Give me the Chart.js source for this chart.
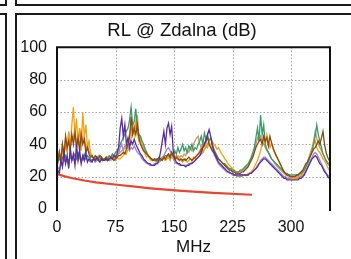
<!DOCTYPE html>
<html>
<head>
<meta charset="utf-8">
<script src="https://cdn.jsdelivr.net/npm/chart.js@4.4.1/dist/chart.umd.min.js"></script>
<style>
html,body{margin:0;padding:0;background:#fff;}
#wrap{position:absolute;left:0;top:0;width:351px;height:259px;}
.ln{position:absolute;background:#1a1a1a;}
</style>
</head>
<body>
<div id="wrap"><canvas id="c" width="351" height="259"></canvas></div>
<div class="ln" style="left:5px;top:0;width:2px;height:6px"></div>
<div class="ln" style="left:0;top:4px;width:7px;height:2px"></div>
<div class="ln" style="left:15px;top:0;width:2px;height:6px"></div>
<div class="ln" style="left:15px;top:4px;width:336px;height:2px"></div>
<div class="ln" style="left:5px;top:13px;width:2px;height:246px"></div>
<div class="ln" style="left:0;top:13px;width:7px;height:2px"></div>
<div class="ln" style="left:15px;top:13px;width:2px;height:246px"></div>
<div class="ln" style="left:15px;top:13px;width:336px;height:2px"></div>
<script>
const chartTitle = "RL @ Zdalna (dB)";
const xTitle = "MHz";
const xTicks = [0, 75, 150, 225, 300];
const yTicks = [0, 20, 40, 60, 80, 100];

const freqs = [
1,3,5,7,9,11,13,15,17,19,
21,23,25,27,29,31,33,35,37,39,
41,43,45,47,49,51,53,55,57,59,
61,63,65,67,69,71,73,75,77,79,
81,83,85,87,89,91,93,95,97,99,
101,103,105,107,109,111,113,115,117,119,
121,123,125,127,129,131,133,135,137,139,
141,143,145,147,149,151,153,155,157,159,
161,163,165,167,169,171,173,175,177,179,
181,183,185,187,189,191,193,195,197,199,
201,203,205,207,209,211,213,215,217,219,
221,223,225,227,229,231,233,235,237,239,
241,243,245,247,249,251,253,255,257,259,
261,263,265,267,269,271,273,275,277,279,
281,283,285,287,289,291,293,295,297,299,
301,303,305,307,309,311,313,315,317,319,
321,323,325,327,329,331,333,335,337,339,
341,343,345,347,349];

const orange = [
30,33,29,36,32,40,35,47,38,52,
63,45,56,40,50,36,60,44,52,38,
42,35,33,31,30,32,31,30,32,31,
30,31,32,30,31,33,31,30,32,31,
31,32,33,35,34,37,40,44,50,46,
54,47,42,44,38,36,34,32,33,31,
30,31,30,29,30,31,30,32,31,30,
32,33,31,34,32,30,31,33,32,30,
29,30,31,29,30,31,30,32,31,33,
34,36,38,35,37,40,38,41,39,42,
40,39,37,38,36,34,33,31,30,28,
27,26,25,24,23,22,22,21,21,21,
21,21,22,22,23,24,26,28,30,33,
36,40,44,40,46,42,38,41,37,35,
33,31,29,27,25,23,22,21,20,20,
19,19,19,19,20,20,21,22,24,26,
28,31,34,37,40,42,38,36,35,33,
31,30,28,26,24];

const brown = [
28,35,30,40,33,45,38,42,36,46,
40,47,38,44,36,46,40,43,35,38,
34,32,33,31,33,32,31,33,32,30,
31,32,30,31,32,31,30,31,32,33,
33,34,35,34,37,40,44,57,46,50,
46,52,44,40,38,36,35,34,33,32,
31,30,31,30,31,32,31,30,32,31,
33,34,32,35,33,31,32,31,30,31,
30,31,30,31,32,31,30,31,32,33,
34,35,37,38,40,42,44,40,38,36,
35,34,32,31,30,29,28,27,26,25,
24,24,23,23,22,22,22,22,23,23,
24,25,26,28,30,32,35,38,40,42,
43,40,45,42,44,39,45,41,38,35,
33,31,29,27,25,23,22,21,21,20,
20,20,20,21,21,22,23,24,26,28,
29,31,33,35,37,38,40,42,40,44,
48,40,35,32,30];

const purple = [
24,22,30,26,35,28,33,25,38,30,
34,27,40,30,36,28,33,30,35,29,
31,30,29,31,30,32,30,29,31,30,
30,31,30,31,32,31,33,32,34,38,
50,56,45,52,40,44,38,42,40,43,
40,38,36,34,33,31,30,29,28,28,
27,27,27,28,28,31,36,42,48,40,
50,53,46,51,36,31,29,28,28,27,
27,27,26,27,27,28,28,29,30,31,
32,33,35,38,40,43,46,49,45,40,
36,33,31,29,28,27,26,25,24,23,
23,22,22,21,21,21,21,21,21,21,
21,21,21,22,22,23,24,25,26,28,
29,30,31,31,30,29,28,27,26,25,
24,23,22,21,20,19,19,18,18,18,
18,18,18,18,18,19,19,20,21,23,
25,27,29,31,32,33,32,30,28,27,
25,23,22,20,19];

const lavender = [
26,24,28,27,31,29,30,27,33,30,
31,29,34,30,32,29,31,30,32,30,
30,29,30,31,29,30,31,30,30,31,
30,30,31,30,31,32,31,32,33,34,
38,40,36,39,37,38,36,38,37,39,
37,35,34,33,31,30,29,28,28,27,
27,27,28,28,29,29,30,31,33,35,
37,38,36,34,31,29,28,28,27,27,
27,27,27,27,28,28,29,29,30,31,
32,33,34,35,37,38,40,41,39,37,
34,32,30,28,27,26,25,24,23,23,
22,22,21,21,21,20,20,20,20,21,
21,21,21,22,22,23,24,25,27,28,
30,31,32,32,31,30,29,28,27,26,
25,24,23,22,21,20,20,19,19,19,
19,19,19,19,19,20,20,21,22,24,
26,28,30,32,34,35,34,32,30,28,
26,24,22,21,20];

const green = [
30,31,29,32,30,33,31,30,32,31,
32,34,31,35,33,30,32,34,31,33,
32,31,30,31,30,31,30,31,32,31,
31,32,31,33,32,34,33,35,36,38,
40,42,44,46,48,50,55,63,52,54,
62,50,46,45,42,40,37,35,33,32,
31,30,30,31,30,31,30,31,32,33,
33,34,32,35,33,36,34,38,35,37,
40,36,38,35,39,37,40,36,38,37,
40,42,45,40,47,43,46,42,44,40,
37,35,33,31,30,29,28,28,27,26,
25,25,24,24,23,23,23,24,24,25,
26,27,28,30,32,35,38,44,50,42,
58,46,52,40,37,35,33,31,30,29,
28,27,26,25,24,23,22,22,21,21,
21,21,21,21,21,22,22,23,24,26,
28,30,33,36,40,45,52,46,42,38,
34,32,30,28,27];

const tan = [
31,36,30,40,34,44,37,48,39,45,
44,50,40,46,38,48,42,45,37,40,
36,33,32,31,32,31,33,32,31,30,
31,30,32,31,30,32,31,33,32,34,
35,36,37,38,40,42,45,50,48,52,
50,58,45,42,40,38,36,34,33,32,
31,30,31,30,31,30,31,32,31,30,
31,32,30,33,31,32,33,31,32,33,
32,34,33,36,35,38,36,40,42,44,
45,40,38,41,39,42,40,41,38,37,
36,34,33,31,30,29,28,27,26,25,
24,24,23,23,23,23,23,23,24,24,
25,26,27,29,31,33,36,40,44,42,
45,42,40,38,36,35,33,31,30,28,
27,26,25,24,23,22,21,21,20,20,
20,20,20,20,21,21,22,23,25,27,
29,32,35,38,42,48,44,40,38,36,
34,32,30,29,28];

const limitFreqs = [1, 10, 20, 35, 50, 77, 100, 120, 160, 200, 250];
const limitVals = [21.5, 20.2, 19, 17.6, 16.5, 15, 13.8, 12.8, 11.2, 10, 8.8];

function pts(xs, ys){ return xs.map((x,i)=>({x:x, y:ys[i]})); }
function ds(label, xs, ys, color, w){
  return {label:label, data:pts(xs, ys), borderColor:color, backgroundColor:color,
          borderWidth:w, pointRadius:0, tension:0, fill:false, yAxisID:'y'};
}

// dotted grid drawn from the library's own scales and ticks
const gridPlugin = {
  id:'dotgrid',
  beforeDatasetsDraw(chart){
    const a = chart.chartArea, ctx = chart.ctx;
    const xs = chart.scales.x, ys = chart.scales.y;
    ctx.save();
    ctx.strokeStyle = '#a6a6a6';
    ctx.lineWidth = 1;
    ctx.setLineDash([1.5, 2]);
    xs.ticks.forEach(t => {
      if (t.value <= xs.min || t.value >= xs.max) return;
      const p = Math.round(xs.getPixelForValue(t.value)) + 0.5;
      ctx.beginPath(); ctx.moveTo(p, a.top); ctx.lineTo(p, a.bottom); ctx.stroke();
    });
    ys.ticks.forEach(t => {
      if (t.value <= ys.min || t.value >= ys.max) return;
      const p = Math.round(ys.getPixelForValue(t.value)) + 0.5;
      ctx.beginPath(); ctx.moveTo(a.left, p); ctx.lineTo(a.right, p); ctx.stroke();
    });
    ctx.restore();
  }
};

const framePlugin = {
  id:'frame',
  afterDraw(chart){
    const a = chart.chartArea, ctx = chart.ctx;
    ctx.save();
    ctx.strokeStyle = '#111';
    ctx.lineWidth = 2;
    ctx.beginPath();
    ctx.moveTo(a.left, a.bottom + 2);
    ctx.lineTo(a.left, a.top);
    ctx.lineTo(a.right, a.top);
    ctx.lineTo(a.right, a.bottom + 2);
    ctx.stroke();
    ctx.restore();
  }
};

const font = "'Liberation Sans', Arial, sans-serif";

new Chart(document.getElementById('c'), {
  type:'line',
  data:{datasets:[
    ds('Limit', limitFreqs, limitVals, '#E8462E', 2.2),
    ds('Pair 1', freqs, purple, '#5B2C9E', 1.3),
    ds('Pair 2', freqs, brown, '#8B4A12', 1.3),
    ds('Pair 3', freqs, green, '#3A9A68', 1.3),
    ds('Pair 4', freqs, orange, '#F2A20C', 1.3),
    ds('Pair 5', freqs, tan, '#C29A6B', 1.3),
    ds('Pair 6', freqs, lavender, '#9A85D0', 1.3)
  ]},
  options:{
    responsive:false,
    animation:false,
    events:[],
    layout:{padding:{left:13, right:0, top:15, bottom:0}},
    plugins:{
      legend:{display:false},
      tooltip:{enabled:false},
      title:{display:true, text:chartTitle, color:'#111',
             font:{family:font, size:18.5, weight:'normal'}, padding:{top:4.5, bottom:5.5}}
    },
    scales:{
      x:{type:'linear', min:0, max:350,
         afterFit(s){ s.height = 50; },
         afterBuildTicks(s){ s.ticks = xTicks.map(v=>({value:v})); },
         ticks:{includeBounds:false, color:'#111', padding:9, maxRotation:0,
                font:{family:font, size:16}},
         grid:{display:false, drawTicks:false},
         border:{display:false},
         title:{display:true, text:xTitle, color:'#111', padding:{top:0, bottom:1},
                font:{family:font, size:17}}
      },
      y:{type:'linear', position:'left', min:0, max:100,
         afterFit(s){ s.width = 44; },
         afterBuildTicks(s){ s.ticks = yTicks.map(v=>({value:v})); },
         ticks:{color:'#111', padding:10, font:{family:font, size:16}},
         grid:{display:false, drawTicks:false},
         border:{display:false}
      },
      yr:{type:'linear', position:'right', min:0, max:100,
         afterFit(s){ s.width = 21; },
         ticks:{display:false},
         grid:{display:false, drawTicks:false},
         border:{display:false}
      }
    }
  },
  plugins:[gridPlugin, framePlugin]
});
</script>
</body>
</html>
